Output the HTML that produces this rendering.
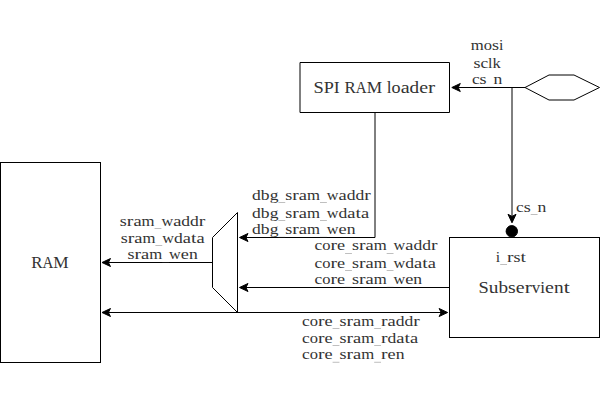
<!DOCTYPE html>
<html><head><meta charset="utf-8"><style>
html,body{margin:0;padding:0;background:#fff;width:600px;height:400px;overflow:hidden}
svg{display:block}
.s rect,.s path,.s circle{fill:none;stroke:#000;stroke-width:1}
.s .ah{fill:#000;stroke:#000}
.t text{text-anchor:middle;font-family:"Liberation Serif",serif;fill:#333;stroke:#333;stroke-width:0}
.u rect{fill:#333;opacity:0.7}
</style></head><body>
<svg width="600" height="400" viewBox="0 0 600 400">
<g class="s">
<rect x="0.5" y="162.5" width="100" height="200"/>
<path d="M300,62.5 L449.5,62.5 L449.5,112.5 L300,112.5 Z"/>
<rect x="449.5" y="237.5" width="150" height="100"/>
<path d="M525,87.5 L549,75 L574,75 L599.5,87.5 L574,100 L549,100 Z"/>
<path d="M237.5,212.5 L237.5,312.5 L212.5,287.5 L212.5,237.5 Z"/>
<path d="M525,87.5 L456,87.5"/>
<path d="M512,87.5 L512,218"/>
<circle class="ah" cx="511.8" cy="231.3" r="5.7"/>
<path d="M375,112.5 L375,237.5 L243,237.5"/>
<path d="M449.5,287.5 L243,287.5"/>
<path d="M212.5,262.5 L106,262.5"/>
<path d="M106,312.5 L443,312.5"/>
<path class="ah" d="M451.80,87.50 L460.30,83.50 L458.18,87.50 L460.30,91.50 Z"/>
<path class="ah" d="M512.00,222.80 L508.00,214.30 L512.00,216.43 L516.00,214.30 Z"/>
<path class="ah" d="M239.50,237.50 L248.00,233.50 L245.88,237.50 L248.00,241.50 Z"/>
<path class="ah" d="M239.50,287.50 L248.00,283.50 L245.88,287.50 L248.00,291.50 Z"/>
<path class="ah" d="M102.00,262.50 L110.50,258.50 L108.38,262.50 L110.50,266.50 Z"/>
<path class="ah" d="M102.00,312.50 L110.50,308.50 L108.38,312.50 L110.50,316.50 Z"/>
<path class="ah" d="M447.60,312.50 L439.10,308.50 L441.23,312.50 L439.10,316.50 Z"/>
</g>
<g class="t">
<text transform="translate(477.27,50.20) scale(1.092,1)" font-size="15.3">m</text><text transform="translate(487.89,50.20) scale(1.078,1)" font-size="15.3">o</text><text transform="translate(495.53,50.20) scale(1.181,1)" font-size="15.3">s</text><text transform="translate(501.23,50.20) scale(1.031,1)" font-size="15.3">i</text>
<text transform="translate(476.92,67.80) scale(1.181,1)" font-size="15.3">s</text><text transform="translate(484.27,67.80) scale(1.130,1)" font-size="15.3">c</text><text transform="translate(490.30,67.80) scale(1.031,1)" font-size="15.3">l</text><text transform="translate(496.64,67.80) scale(1.085,1)" font-size="15.3">k</text>
<text transform="translate(475.75,84.20) scale(1.130,1)" font-size="15.3">c</text><text transform="translate(483.10,84.20) scale(1.181,1)" font-size="15.3">s</text><text transform="translate(497.88,84.20) scale(1.153,1)" font-size="15.3">n</text>
<text transform="translate(256.48,199.80) scale(1.146,1)" font-size="15.3">d</text><text transform="translate(265.25,199.80) scale(1.146,1)" font-size="15.3">b</text><text transform="translate(274.02,199.80) scale(1.146,1)" font-size="15.3">g</text><text transform="translate(288.78,199.80) scale(1.181,1)" font-size="15.3">s</text><text transform="translate(295.56,199.80) scale(1.285,1)" font-size="15.3">r</text><text transform="translate(302.92,199.80) scale(1.203,1)" font-size="15.3">a</text><text transform="translate(313.50,199.80) scale(1.092,1)" font-size="15.3">m</text><text transform="translate(332.71,199.80) scale(1.061,1)" font-size="15.3">w</text><text transform="translate(342.66,199.80) scale(1.203,1)" font-size="15.3">a</text><text transform="translate(351.13,199.80) scale(1.146,1)" font-size="15.3">d</text><text transform="translate(359.90,199.80) scale(1.146,1)" font-size="15.3">d</text><text transform="translate(367.56,199.80) scale(1.285,1)" font-size="15.3">r</text>
<text transform="translate(256.48,217.60) scale(1.146,1)" font-size="15.3">d</text><text transform="translate(265.25,217.60) scale(1.146,1)" font-size="15.3">b</text><text transform="translate(274.02,217.60) scale(1.146,1)" font-size="15.3">g</text><text transform="translate(288.78,217.60) scale(1.181,1)" font-size="15.3">s</text><text transform="translate(295.56,217.60) scale(1.285,1)" font-size="15.3">r</text><text transform="translate(302.92,217.60) scale(1.203,1)" font-size="15.3">a</text><text transform="translate(313.50,217.60) scale(1.092,1)" font-size="15.3">m</text><text transform="translate(332.71,217.60) scale(1.061,1)" font-size="15.3">w</text><text transform="translate(342.96,217.60) scale(1.146,1)" font-size="15.3">d</text><text transform="translate(351.43,217.60) scale(1.203,1)" font-size="15.3">a</text><text transform="translate(358.27,217.60) scale(1.295,1)" font-size="15.3">t</text><text transform="translate(365.10,217.60) scale(1.203,1)" font-size="15.3">a</text>
<text transform="translate(256.48,234.20) scale(1.146,1)" font-size="15.3">d</text><text transform="translate(265.25,234.20) scale(1.146,1)" font-size="15.3">b</text><text transform="translate(274.02,234.20) scale(1.146,1)" font-size="15.3">g</text><text transform="translate(288.78,234.20) scale(1.181,1)" font-size="15.3">s</text><text transform="translate(295.56,234.20) scale(1.285,1)" font-size="15.3">r</text><text transform="translate(302.92,234.20) scale(1.203,1)" font-size="15.3">a</text><text transform="translate(313.50,234.20) scale(1.092,1)" font-size="15.3">m</text><text transform="translate(332.71,234.20) scale(1.061,1)" font-size="15.3">w</text><text transform="translate(342.63,234.20) scale(1.194,1)" font-size="15.3">e</text><text transform="translate(351.09,234.20) scale(1.153,1)" font-size="15.3">n</text>
<text transform="translate(123.33,225.50) scale(1.181,1)" font-size="15.3">s</text><text transform="translate(130.12,225.50) scale(1.285,1)" font-size="15.3">r</text><text transform="translate(137.48,225.50) scale(1.203,1)" font-size="15.3">a</text><text transform="translate(148.06,225.50) scale(1.092,1)" font-size="15.3">m</text><text transform="translate(167.27,225.50) scale(1.061,1)" font-size="15.3">w</text><text transform="translate(177.21,225.50) scale(1.203,1)" font-size="15.3">a</text><text transform="translate(185.68,225.50) scale(1.146,1)" font-size="15.3">d</text><text transform="translate(194.45,225.50) scale(1.146,1)" font-size="15.3">d</text><text transform="translate(202.11,225.50) scale(1.285,1)" font-size="15.3">r</text>
<text transform="translate(124.15,242.80) scale(1.181,1)" font-size="15.3">s</text><text transform="translate(130.94,242.80) scale(1.285,1)" font-size="15.3">r</text><text transform="translate(138.30,242.80) scale(1.203,1)" font-size="15.3">a</text><text transform="translate(148.88,242.80) scale(1.092,1)" font-size="15.3">m</text><text transform="translate(168.09,242.80) scale(1.061,1)" font-size="15.3">w</text><text transform="translate(178.34,242.80) scale(1.146,1)" font-size="15.3">d</text><text transform="translate(186.81,242.80) scale(1.203,1)" font-size="15.3">a</text><text transform="translate(193.64,242.80) scale(1.295,1)" font-size="15.3">t</text><text transform="translate(200.48,242.80) scale(1.203,1)" font-size="15.3">a</text>
<text transform="translate(130.99,259.40) scale(1.181,1)" font-size="15.3">s</text><text transform="translate(137.78,259.40) scale(1.285,1)" font-size="15.3">r</text><text transform="translate(145.14,259.40) scale(1.203,1)" font-size="15.3">a</text><text transform="translate(155.72,259.40) scale(1.092,1)" font-size="15.3">m</text><text transform="translate(174.93,259.40) scale(1.061,1)" font-size="15.3">w</text><text transform="translate(184.85,259.40) scale(1.194,1)" font-size="15.3">e</text><text transform="translate(193.31,259.40) scale(1.153,1)" font-size="15.3">n</text>
<text transform="translate(318.34,250.30) scale(1.130,1)" font-size="15.3">c</text><text transform="translate(326.30,250.30) scale(1.078,1)" font-size="15.3">o</text><text transform="translate(333.70,250.30) scale(1.285,1)" font-size="15.3">r</text><text transform="translate(341.02,250.30) scale(1.194,1)" font-size="15.3">e</text><text transform="translate(355.44,250.30) scale(1.181,1)" font-size="15.3">s</text><text transform="translate(362.23,250.30) scale(1.285,1)" font-size="15.3">r</text><text transform="translate(369.59,250.30) scale(1.203,1)" font-size="15.3">a</text><text transform="translate(380.17,250.30) scale(1.092,1)" font-size="15.3">m</text><text transform="translate(399.38,250.30) scale(1.061,1)" font-size="15.3">w</text><text transform="translate(409.33,250.30) scale(1.203,1)" font-size="15.3">a</text><text transform="translate(417.80,250.30) scale(1.146,1)" font-size="15.3">d</text><text transform="translate(426.57,250.30) scale(1.146,1)" font-size="15.3">d</text><text transform="translate(434.22,250.30) scale(1.285,1)" font-size="15.3">r</text>
<text transform="translate(318.34,267.50) scale(1.130,1)" font-size="15.3">c</text><text transform="translate(326.30,267.50) scale(1.078,1)" font-size="15.3">o</text><text transform="translate(333.70,267.50) scale(1.285,1)" font-size="15.3">r</text><text transform="translate(341.02,267.50) scale(1.194,1)" font-size="15.3">e</text><text transform="translate(355.44,267.50) scale(1.181,1)" font-size="15.3">s</text><text transform="translate(362.23,267.50) scale(1.285,1)" font-size="15.3">r</text><text transform="translate(369.59,267.50) scale(1.203,1)" font-size="15.3">a</text><text transform="translate(380.17,267.50) scale(1.092,1)" font-size="15.3">m</text><text transform="translate(399.38,267.50) scale(1.061,1)" font-size="15.3">w</text><text transform="translate(409.63,267.50) scale(1.146,1)" font-size="15.3">d</text><text transform="translate(418.10,267.50) scale(1.203,1)" font-size="15.3">a</text><text transform="translate(424.93,267.50) scale(1.295,1)" font-size="15.3">t</text><text transform="translate(431.77,267.50) scale(1.203,1)" font-size="15.3">a</text>
<text transform="translate(318.34,284.20) scale(1.130,1)" font-size="15.3">c</text><text transform="translate(326.30,284.20) scale(1.078,1)" font-size="15.3">o</text><text transform="translate(333.70,284.20) scale(1.285,1)" font-size="15.3">r</text><text transform="translate(341.02,284.20) scale(1.194,1)" font-size="15.3">e</text><text transform="translate(355.44,284.20) scale(1.181,1)" font-size="15.3">s</text><text transform="translate(362.23,284.20) scale(1.285,1)" font-size="15.3">r</text><text transform="translate(369.59,284.20) scale(1.203,1)" font-size="15.3">a</text><text transform="translate(380.17,284.20) scale(1.092,1)" font-size="15.3">m</text><text transform="translate(399.38,284.20) scale(1.061,1)" font-size="15.3">w</text><text transform="translate(409.30,284.20) scale(1.194,1)" font-size="15.3">e</text><text transform="translate(417.76,284.20) scale(1.153,1)" font-size="15.3">n</text>
<text transform="translate(305.84,325.50) scale(1.130,1)" font-size="15.3">c</text><text transform="translate(313.80,325.50) scale(1.078,1)" font-size="15.3">o</text><text transform="translate(321.20,325.50) scale(1.285,1)" font-size="15.3">r</text><text transform="translate(328.52,325.50) scale(1.194,1)" font-size="15.3">e</text><text transform="translate(342.94,325.50) scale(1.181,1)" font-size="15.3">s</text><text transform="translate(349.73,325.50) scale(1.285,1)" font-size="15.3">r</text><text transform="translate(357.09,325.50) scale(1.203,1)" font-size="15.3">a</text><text transform="translate(367.67,325.50) scale(1.092,1)" font-size="15.3">m</text><text transform="translate(384.29,325.50) scale(1.285,1)" font-size="15.3">r</text><text transform="translate(391.65,325.50) scale(1.203,1)" font-size="15.3">a</text><text transform="translate(400.12,325.50) scale(1.146,1)" font-size="15.3">d</text><text transform="translate(408.89,325.50) scale(1.146,1)" font-size="15.3">d</text><text transform="translate(416.55,325.50) scale(1.285,1)" font-size="15.3">r</text>
<text transform="translate(305.84,342.50) scale(1.130,1)" font-size="15.3">c</text><text transform="translate(313.80,342.50) scale(1.078,1)" font-size="15.3">o</text><text transform="translate(321.20,342.50) scale(1.285,1)" font-size="15.3">r</text><text transform="translate(328.52,342.50) scale(1.194,1)" font-size="15.3">e</text><text transform="translate(342.94,342.50) scale(1.181,1)" font-size="15.3">s</text><text transform="translate(349.73,342.50) scale(1.285,1)" font-size="15.3">r</text><text transform="translate(357.09,342.50) scale(1.203,1)" font-size="15.3">a</text><text transform="translate(367.67,342.50) scale(1.092,1)" font-size="15.3">m</text><text transform="translate(384.29,342.50) scale(1.285,1)" font-size="15.3">r</text><text transform="translate(391.95,342.50) scale(1.146,1)" font-size="15.3">d</text><text transform="translate(400.42,342.50) scale(1.203,1)" font-size="15.3">a</text><text transform="translate(407.26,342.50) scale(1.295,1)" font-size="15.3">t</text><text transform="translate(414.09,342.50) scale(1.203,1)" font-size="15.3">a</text>
<text transform="translate(305.84,359.20) scale(1.130,1)" font-size="15.3">c</text><text transform="translate(313.80,359.20) scale(1.078,1)" font-size="15.3">o</text><text transform="translate(321.20,359.20) scale(1.285,1)" font-size="15.3">r</text><text transform="translate(328.52,359.20) scale(1.194,1)" font-size="15.3">e</text><text transform="translate(342.94,359.20) scale(1.181,1)" font-size="15.3">s</text><text transform="translate(349.73,359.20) scale(1.285,1)" font-size="15.3">r</text><text transform="translate(357.09,359.20) scale(1.203,1)" font-size="15.3">a</text><text transform="translate(367.67,359.20) scale(1.092,1)" font-size="15.3">m</text><text transform="translate(384.29,359.20) scale(1.285,1)" font-size="15.3">r</text><text transform="translate(391.62,359.20) scale(1.194,1)" font-size="15.3">e</text><text transform="translate(400.08,359.20) scale(1.153,1)" font-size="15.3">n</text>
<text transform="translate(519.84,211.50) scale(1.130,1)" font-size="15.3">c</text><text transform="translate(527.19,211.50) scale(1.181,1)" font-size="15.3">s</text><text transform="translate(541.97,211.50) scale(1.153,1)" font-size="15.3">n</text>
<text transform="translate(497.99,261.60) scale(1.031,1)" font-size="15.3">i</text><text transform="translate(510.31,261.60) scale(1.285,1)" font-size="15.3">r</text><text transform="translate(517.10,261.60) scale(1.181,1)" font-size="15.3">s</text><text transform="translate(523.36,261.60) scale(1.295,1)" font-size="15.3">t</text>
<text transform="translate(318.62,92.50) scale(1.093,1)" font-size="16.9">S</text><text transform="translate(328.80,92.50) scale(1.074,1)" font-size="16.9">P</text><text transform="translate(336.81,92.50) scale(1.053,1)" font-size="16.9">I</text><text transform="translate(350.19,92.50) scale(1.002,1)" font-size="16.9">R</text><text transform="translate(361.25,92.50) scale(0.888,1)" font-size="16.9">A</text><text transform="translate(374.35,92.50) scale(1.022,1)" font-size="16.9">M</text><text transform="translate(389.20,92.50) scale(1.022,1)" font-size="16.9">l</text><text transform="translate(396.11,92.50) scale(1.069,1)" font-size="16.9">o</text><text transform="translate(405.10,92.50) scale(1.192,1)" font-size="16.9">a</text><text transform="translate(414.37,92.50) scale(1.136,1)" font-size="16.9">d</text><text transform="translate(423.61,92.50) scale(1.183,1)" font-size="16.9">e</text><text transform="translate(431.63,92.50) scale(1.274,1)" font-size="16.9">r</text>
<text transform="translate(36.80,267.60) scale(1.002,1)" font-size="16.9">R</text><text transform="translate(47.87,267.60) scale(0.888,1)" font-size="16.9">A</text><text transform="translate(60.96,267.60) scale(1.022,1)" font-size="16.9">M</text>
<text transform="translate(483.68,292.90) scale(1.093,1)" font-size="16.9">S</text><text transform="translate(493.65,292.90) scale(1.143,1)" font-size="16.9">u</text><text transform="translate(503.28,292.90) scale(1.136,1)" font-size="16.9">b</text><text transform="translate(511.93,292.90) scale(1.170,1)" font-size="16.9">s</text><text transform="translate(520.21,292.90) scale(1.183,1)" font-size="16.9">e</text><text transform="translate(528.24,292.90) scale(1.274,1)" font-size="16.9">r</text><text transform="translate(536.06,292.90) scale(1.003,1)" font-size="16.9">v</text><text transform="translate(542.70,292.90) scale(1.022,1)" font-size="16.9">i</text><text transform="translate(549.53,292.90) scale(1.183,1)" font-size="16.9">e</text><text transform="translate(558.80,292.90) scale(1.143,1)" font-size="16.9">n</text><text transform="translate(566.65,292.90) scale(1.284,1)" font-size="16.9">t</text>
</g>
<g class="u">
<rect x="486.62" y="86.90" width="6.85" height="0.45"/>
<rect x="278.41" y="202.50" width="6.85" height="0.45"/>
<rect x="320.00" y="202.50" width="6.85" height="0.45"/>
<rect x="278.41" y="220.30" width="6.85" height="0.45"/>
<rect x="320.00" y="220.30" width="6.85" height="0.45"/>
<rect x="278.41" y="236.90" width="6.85" height="0.45"/>
<rect x="320.00" y="236.90" width="6.85" height="0.45"/>
<rect x="154.55" y="228.20" width="6.85" height="0.45"/>
<rect x="155.38" y="245.50" width="6.85" height="0.45"/>
<rect x="162.22" y="262.10" width="6.85" height="0.45"/>
<rect x="345.08" y="253.00" width="6.85" height="0.45"/>
<rect x="386.67" y="253.00" width="6.85" height="0.45"/>
<rect x="345.08" y="270.20" width="6.85" height="0.45"/>
<rect x="386.67" y="270.20" width="6.85" height="0.45"/>
<rect x="345.08" y="286.90" width="6.85" height="0.45"/>
<rect x="386.67" y="286.90" width="6.85" height="0.45"/>
<rect x="332.58" y="328.20" width="6.85" height="0.45"/>
<rect x="374.17" y="328.20" width="6.85" height="0.45"/>
<rect x="332.58" y="345.20" width="6.85" height="0.45"/>
<rect x="374.17" y="345.20" width="6.85" height="0.45"/>
<rect x="332.58" y="361.90" width="6.85" height="0.45"/>
<rect x="374.17" y="361.90" width="6.85" height="0.45"/>
<rect x="530.70" y="214.20" width="6.85" height="0.45"/>
<rect x="500.18" y="264.30" width="6.85" height="0.45"/>
</g>
</svg>
</body></html>
